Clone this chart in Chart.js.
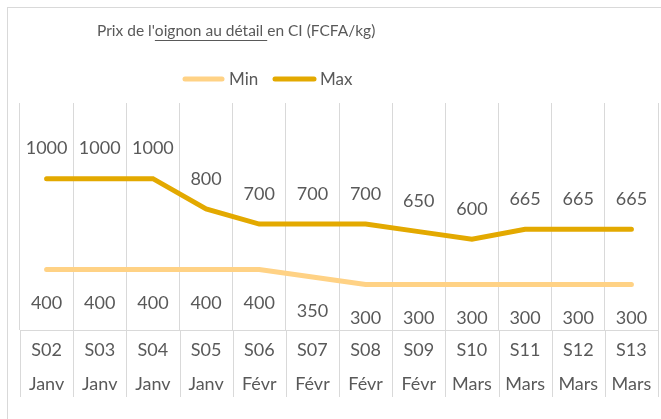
<!DOCTYPE html>
<html>
<head>
<meta charset="utf-8">
<script src="https://cdn.jsdelivr.net/npm/chart.js@4/dist/chart.umd.min.js"></script>
<style>
  html, body { margin: 0; background: #fff; }
</style>
</head>
<body>
<canvas id="myChart" width="661" height="419"></canvas>
<script>
const weeks = ['S02', 'S03', 'S04', 'S05', 'S06', 'S07', 'S08', 'S09', 'S10', 'S11', 'S12', 'S13']
const months = ['Janv', 'Janv', 'Janv', 'Janv', 'Févr', 'Févr', 'Févr', 'Févr', 'Mars', 'Mars', 'Mars', 'Mars']
const minPrices = [400, 400, 400, 400, 400, 350, 300, 300, 300, 300, 300, 300]
const maxPrices = [1000, 1000, 1000, 800, 700, 700, 700, 650, 600, 665, 665, 665]

const textColor = '#595959'
const gridColor = '#D9D9D9'
const minColor = '#FFD285'
const maxColor = '#E3A900'
const fontFamily = 'Lato, "Open Sans", sans-serif'

// title, legend, labels and the grid lines running through the category labels
const decor = {
  id: 'decor',
  beforeDraw(chart) {
    const ctx = chart.ctx
    ctx.save()
    ctx.fillStyle = '#fff'
    ctx.fillRect(0, 0, chart.width, chart.height)
    ctx.strokeStyle = gridColor
    ctx.lineWidth = 1
    ctx.strokeRect(7.5, 7.5, 700, 500)
    ctx.restore()
  },
  afterDraw(chart) {
    const ctx = chart.ctx
    const area = chart.chartArea
    const step = (area.right - area.left) / weeks.length
    ctx.save()
    ctx.strokeStyle = gridColor
    ctx.lineWidth = 1
    for (let i = 0; i <= weeks.length; i++) {
      const px = Math.round(area.left + i * step) + 0.5
      ctx.beginPath()
      ctx.moveTo(px, area.bottom)
      ctx.lineTo(px, 397)
      ctx.stroke()
    }

    // data labels
    ctx.fillStyle = textColor
    ctx.font = '18px ' + fontFamily
    ctx.textAlign = 'center'
    ctx.textBaseline = 'middle'
    chart.getDatasetMeta(1).data.forEach((pt, i) => {
      ctx.fillText(String(maxPrices[i]), pt.x, pt.y - 30)
    })
    chart.getDatasetMeta(0).data.forEach((pt, i) => {
      ctx.fillText(String(minPrices[i]), pt.x, pt.y + 34)
    })

    // title
    ctx.textAlign = 'left'
    ctx.font = '15.5px ' + fontFamily
    const pre = "Prix de l'"
    const mid = 'oignon au détail '
    const post = 'en CI (FCFA/kg)'
    let tx = 97
    ctx.fillText(pre, tx, 31)
    tx += ctx.measureText(pre).width
    ctx.fillText(mid, tx, 31)
    const mw = ctx.measureText(mid).width
    ctx.fillRect(tx, 40, mw, 1)
    tx += mw
    ctx.fillText(post, tx, 31)

    // legend
    ctx.lineCap = 'round'
    ctx.lineWidth = 5
    ctx.font = '17px ' + fontFamily
    ctx.strokeStyle = minColor
    ctx.beginPath(); ctx.moveTo(185, 79); ctx.lineTo(222, 79); ctx.stroke()
    ctx.fillText('Min', 229, 80)
    ctx.strokeStyle = maxColor
    ctx.beginPath(); ctx.moveTo(275, 79); ctx.lineTo(314, 79); ctx.stroke()
    ctx.fillText('Max', 320, 80)
    ctx.restore()
  }
}

const data = {
  labels: weeks.map((w, i) => [w, months[i]]),
  datasets: [
    {
      label: 'Min',
      data: minPrices,
      borderColor: minColor,
      backgroundColor: minColor,
      borderWidth: 5,
      borderCapStyle: 'round',
      pointRadius: 0,
      tension: 0,
    },
    {
      label: 'Max',
      data: maxPrices,
      borderColor: maxColor,
      backgroundColor: maxColor,
      borderWidth: 5,
      borderCapStyle: 'round',
      pointRadius: 0,
      tension: 0,
    },
  ],
}

const config = {
  type: 'line',
  data: data,
  plugins: [decor],
  options: {
    responsive: false,
    animation: false,
    layout: { padding: { left: 20, right: 3, top: 103, bottom: 0 } },
    plugins: {
      legend: { display: false },
      title: { display: false },
      tooltip: { enabled: false },
    },
    scales: {
      x: {
        offset: true,
        grid: { offset: true, color: gridColor, drawTicks: false },
        border: { color: gridColor },
        ticks: {
          color: textColor,
          padding: 3,
          maxRotation: 0,
          autoSkip: false,
          font: { family: fontFamily, size: 18, lineHeight: 34 / 18 },
        },
        afterFit: (scale) => { scale.height = 89 },
      },
      y: {
        display: false,
        min: 0,
        max: 1500,
      },
    },
  },
}

const myChart = new Chart(document.getElementById('myChart'), config)
</script>
</body>
</html>
